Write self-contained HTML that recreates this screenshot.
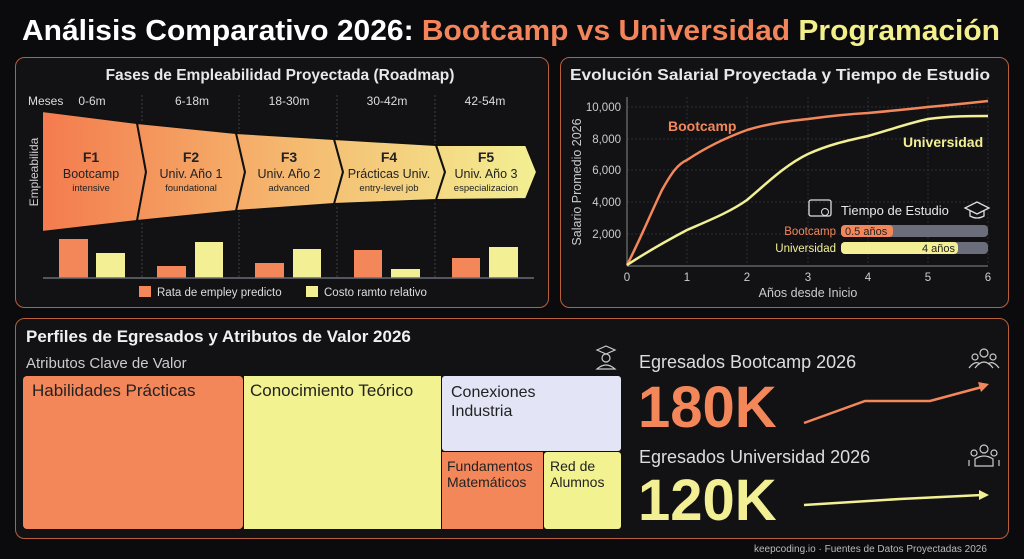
<!DOCTYPE html>
<html><head><meta charset="utf-8"><style>
html,body{margin:0;padding:0;background:#0b0b0d;}
svg{display:block;font-family:"Liberation Sans",sans-serif;}
</style></head><body>
<svg width="1024" height="559" viewBox="0 0 1024 559" xmlns="http://www.w3.org/2000/svg">
<defs>
<linearGradient id="fg" x1="42" y1="0" x2="536" y2="0" gradientUnits="userSpaceOnUse">
<stop offset="0" stop-color="#f47b4e"/><stop offset="0.5" stop-color="#f5b86f"/><stop offset="1" stop-color="#f3ef92"/></linearGradient>
</defs>
<rect width="1024" height="559" fill="#0b0b0d"/>
<text x="22" y="40" font-size="29" font-weight="bold" textLength="978" lengthAdjust="spacingAndGlyphs"><tspan fill="#fff">Análisis Comparativo 2026: </tspan><tspan fill="#f4845a">Bootcamp vs Universidad </tspan><tspan fill="#f3ef8c">Programación</tspan></text>

<!-- left panel -->
<rect x="15.5" y="57.5" width="533" height="250" rx="9" fill="#121215" stroke="#b8603c"/>
<text x="280" y="80" font-size="15.5" font-weight="bold" fill="#e8e8e8" text-anchor="middle">Fases de Empleabilidad Proyectada (Roadmap)</text>
<g font-size="12" fill="#ddd">
<text x="28" y="105">Meses</text>
<text x="92" y="105" text-anchor="middle">0-6m</text>
<text x="192" y="105" text-anchor="middle">6-18m</text>
<text x="289" y="105" text-anchor="middle">18-30m</text>
<text x="387" y="105" text-anchor="middle">30-42m</text>
<text x="485" y="105" text-anchor="middle">42-54m</text>
</g>
<g stroke="#3a3d48" stroke-dasharray="2,2">
<line x1="142" y1="95" x2="142" y2="278"/><line x1="239" y1="95" x2="239" y2="278"/><line x1="337" y1="95" x2="337" y2="278"/><line x1="435" y1="95" x2="435" y2="278"/>
</g>
<text transform="translate(38,172) rotate(-90)" font-size="12" fill="#ccc" text-anchor="middle">Empleabilida</text>
<g fill="url(#fg)" stroke="#111" stroke-width="2">
<polygon points="42,111 137,123 146,172 137,221 42,232"/>
<polygon points="137,123 236,133 245,172 236,211 137,221 146,172"/>
<polygon points="236,133 334,139 343,172 334,204 236,211 245,172"/>
<polygon points="334,139 436,145 445,172 436,200 334,204 343,172"/>
<polygon points="436,145 526,145 537,172 526,199 436,200 445,172"/>
</g>
<g fill="#222" text-anchor="middle">
<g font-size="14" font-weight="bold"><text x="91" y="162">F1</text><text x="191" y="162">F2</text><text x="289" y="162">F3</text><text x="389" y="162">F4</text><text x="486" y="162">F5</text></g>
<g font-size="12.5"><text x="91" y="178">Bootcamp</text><text x="191" y="178">Univ. Año 1</text><text x="289" y="178">Univ. Año 2</text><text x="389" y="178">Prácticas Univ.</text><text x="486" y="178">Univ. Año 3</text></g>
<g font-size="9.5"><text x="91" y="191">intensive</text><text x="191" y="191">foundational</text><text x="289" y="191">advanced</text><text x="389" y="191">entry-level job</text><text x="486" y="191">especializacion</text></g>
</g>
<g fill="#f4875a">
<rect x="59" y="239" width="29" height="39"/><rect x="157" y="266" width="29" height="12"/><rect x="255" y="263" width="29" height="15"/><rect x="354" y="250" width="28" height="28"/><rect x="452" y="258" width="28" height="20"/>
</g>
<g fill="#f2ef94">
<rect x="96" y="253" width="29" height="25"/><rect x="195" y="242" width="28" height="36"/><rect x="293" y="249" width="28" height="29"/><rect x="391" y="269" width="29" height="9"/><rect x="489" y="247" width="29" height="31"/>
</g>
<line x1="43" y1="278" x2="534" y2="278" stroke="#6a6d78" stroke-width="1.5"/>
<rect x="139" y="286" width="12" height="11" fill="#f4875a"/>
<text x="157" y="296" font-size="11.5" fill="#ddd">Rata de empley predicto</text>
<rect x="306" y="286" width="12" height="11" fill="#f2ef94"/>
<text x="324" y="296" font-size="11.5" fill="#ddd">Costo ramto relativo</text>

<!-- right panel -->
<rect x="560.5" y="57.5" width="448" height="250" rx="9" fill="#121215" stroke="#b8603c"/>
<text x="570" y="80" font-size="16" font-weight="bold" fill="#e8e8e8" textLength="420" lengthAdjust="spacingAndGlyphs">Evolución Salarial Proyectada y Tiempo de Estudio</text>
<g stroke="#2c2f38" stroke-dasharray="2,2">
<line x1="627" y1="107" x2="988" y2="107"/><line x1="627" y1="139" x2="988" y2="139"/><line x1="627" y1="170" x2="988" y2="170"/><line x1="627" y1="202" x2="988" y2="202"/><line x1="627" y1="234" x2="988" y2="234"/>
<line x1="687" y1="97" x2="687" y2="265"/><line x1="747" y1="97" x2="747" y2="265"/><line x1="808" y1="97" x2="808" y2="265"/><line x1="868" y1="97" x2="868" y2="265"/><line x1="928" y1="97" x2="928" y2="265"/><line x1="988" y1="97" x2="988" y2="265"/>
</g>
<line x1="627" y1="97" x2="627" y2="266" stroke="#888"/>
<line x1="627" y1="266" x2="988" y2="266" stroke="#888"/>
<g font-size="11.5" fill="#ccc" text-anchor="end">
<text x="621" y="111">10,000</text><text x="621" y="143">8,000</text><text x="621" y="174">6,000</text><text x="621" y="206">4,000</text><text x="621" y="238">2,000</text>
</g>
<g font-size="11.5" fill="#ccc" text-anchor="middle">
<text x="627" y="281">0</text><text x="687" y="281">1</text><text x="747" y="281">2</text><text x="808" y="281">3</text><text x="868" y="281">4</text><text x="928" y="281">5</text><text x="988" y="281">6</text>
<text x="808" y="297" font-size="12.5">Años desde Inicio</text>
</g>
<text transform="translate(581,182) rotate(-90)" font-size="12.5" fill="#ccc" text-anchor="middle">Salario Promedio 2026</text>
<path d="M627,265 C640,240 650,215 662,190 C672,172 678,164 687,160 C705,148 725,138 747,130 C770,123 790,121 808,119 C830,116 850,114 868,113 C890,111 910,109 928,107 C950,105 970,103 988,101" fill="none" stroke="#f4875a" stroke-width="2.5"/>
<path d="M627,265 C650,250 668,240 687,230 C710,220 730,212 747,200 C765,185 785,165 808,154 C830,144 850,140 868,136 C890,130 905,124 928,119 C950,116 970,116 988,116" fill="none" stroke="#f2ef94" stroke-width="2.5"/>
<text x="668" y="131" font-size="14" font-weight="bold" fill="#f4875a">Bootcamp</text>
<text x="903" y="147" font-size="14" font-weight="bold" fill="#f2ef94">Universidad</text>
<rect x="809" y="200" width="22" height="16" rx="2" fill="none" stroke="#ddd" stroke-width="1.3"/>
<circle cx="825" cy="212" r="3.5" fill="none" stroke="#ddd"/>
<text x="841" y="215" font-size="13" fill="#e8e8e8">Tiempo de Estudio</text>
<path d="M965,208 L977,202 L989,208 L977,214 Z M970,210 L970,216 Q977,220 984,216 L984,210" fill="none" stroke="#ddd" stroke-width="1.3"/>
<rect x="841" y="225" width="147" height="12" rx="4" fill="#6b6e7a"/>
<rect x="841" y="225" width="52" height="12" rx="4" fill="#f4875a"/>
<text x="845" y="235" font-size="11" fill="#222">0.5 años</text>
<text x="836" y="235" font-size="11.5" fill="#f4875a" text-anchor="end">Bootcamp</text>
<rect x="841" y="242" width="147" height="12" rx="4" fill="#6b6e7a"/>
<rect x="841" y="242" width="117" height="12" rx="4" fill="#f2ef94"/>
<text x="955" y="252" font-size="11" fill="#222" text-anchor="end">4 años</text>
<text x="836" y="252" font-size="11.5" fill="#f2ef94" text-anchor="end">Universidad</text>

<!-- bottom panel -->
<rect x="15.5" y="318.5" width="993" height="220" rx="9" fill="#121215" stroke="#b8603c"/>
<text x="26" y="342" font-size="17" font-weight="bold" fill="#f0f0f0">Perfiles de Egresados y Atributos de Valor 2026</text>
<text x="26" y="368" font-size="15" fill="#ccc">Atributos Clave de Valor</text>
<g fill="none" stroke="#ccc" stroke-width="1.2">
<path d="M597,350 L606,346 L615,350 L606,354 Z"/><circle cx="606" cy="358" r="4"/><path d="M597,369 Q606,361 615,369 Z"/>
</g>
<rect x="22" y="375" width="600" height="155" rx="5" fill="#111"/>
<rect x="23" y="376" width="220" height="153" rx="4" fill="#f4875a"/>
<rect x="244" y="376" width="197" height="153" fill="#f2f291"/>
<rect x="442" y="376" width="179" height="75" rx="3" fill="#e3e5f7"/>
<rect x="442" y="452" width="101" height="77" fill="#f4875a"/>
<rect x="544" y="452" width="77" height="77" rx="3" fill="#f2f291"/>
<g fill="#222">
<text x="32" y="396" font-size="17">Habilidades Prácticas</text>
<text x="250" y="396" font-size="17">Conocimiento Teórico</text>
<text x="451" y="397" font-size="16">Conexiones</text>
<text x="451" y="416" font-size="16">Industria</text>
<text x="447" y="471" font-size="14">Fundamentos</text>
<text x="447" y="487" font-size="14">Matemáticos</text>
<text x="550" y="471" font-size="14">Red de</text>
<text x="550" y="487" font-size="14">Alumnos</text>
</g>
<text x="639" y="368" font-size="18" fill="#ddd">Egresados Bootcamp 2026</text>
<text x="638" y="427" font-size="58" font-weight="bold" fill="#f4875a">180K</text>
<polyline points="804,423 865,401 930,401 982,387" fill="none" stroke="#f4875a" stroke-width="2.5"/>
<polygon points="989,384 978,382 981,392" fill="#f4875a"/>
<text x="639" y="463" font-size="18" fill="#ddd">Egresados Universidad 2026</text>
<text x="638" y="520" font-size="58" font-weight="bold" fill="#f2ef94">120K</text>
<polyline points="804,505 900,499 982,495" fill="none" stroke="#f2ef94" stroke-width="2.5"/>
<polygon points="989,495 979,490 979,500" fill="#f2ef94"/>
<g fill="none" stroke="#ccc" stroke-width="1.2">
<circle cx="984" cy="353" r="4"/><path d="M975,368 Q984,356 993,368"/><circle cx="975" cy="357" r="3"/><circle cx="993" cy="357" r="3"/><path d="M969,368 Q975,360 980,364 M988,364 Q993,360 999,368"/>
<circle cx="984" cy="449" r="4"/><path d="M975,466 L975,459 Q984,453 993,459 L993,466 Z"/><circle cx="974" cy="453" r="3"/><circle cx="994" cy="453" r="3"/><path d="M969,466 L969,460 M999,466 L999,460"/>
</g>
<text x="754" y="552" font-size="10" fill="#bbb">keepcoding.io · Fuentes de Datos Proyectadas 2026</text>
</svg>
</body></html>
